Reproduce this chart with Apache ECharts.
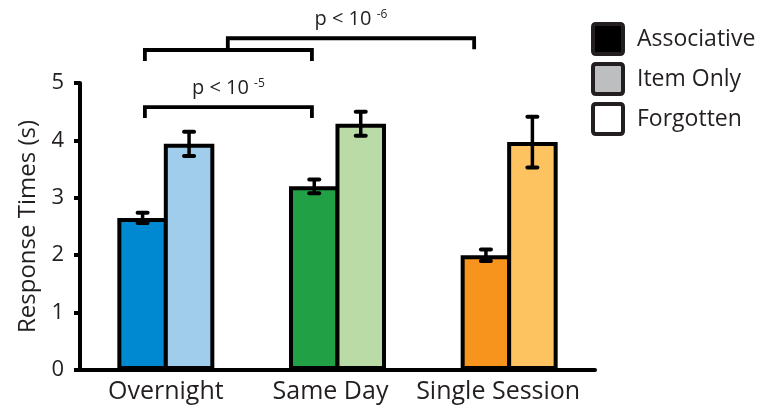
<!DOCTYPE html>
<html>
<head>
<meta charset="utf-8">
<script src="https://cdn.jsdelivr.net/npm/echarts@6/dist/echarts.min.js"></script>
<style>html,body{margin:0;padding:0;background:#fff}#c{width:778px;height:419px}</style>
</head>
<body>
<div id="c"></div>
<script>
var categories = ['Overnight', 'Same Day', 'Single Session'];
var associative = [2.65, 3.20, 2.00];
var associativeErr = [0.09, 0.12, 0.10];
var itemOnly = [3.94, 4.29, 3.97];
var itemOnlyErr = [0.21, 0.21, 0.44];
var assocColors = ['#0089d0', '#21a046', '#f7941e'];
var itemColors = ['#a0cdeb', '#badaa6', '#fec361'];
var yTicks = [0, 1, 2, 3, 4, 5];
var legendNames = ['Associative', 'Item Only', 'Forgotten'];
var legendFills = ['#000000', '#bcbec0', '#ffffff'];
// significance brackets: x in category units, y in data units
var brackets = [
  {x1: -0.122, x2: 0.851, y: 4.58, label: 'p < 10', exp: '-5'},
  {x1: -0.122, x2: 0.851, y: 5.575, label: '', exp: ''},
  {x1: 0.361, x2: 1.796, y: 5.78, label: 'p < 10', exp: '-6', leftToY: 5.575}
];

var TXT = '#231f20';
var GAP = 0.435;
var BARGAP = -0.08;
var labelShift = {'Overnight': 0, 'Same Day': 14, 'Single Session': 22};
var chart = echarts.init(document.getElementById('c'), null, {renderer: 'canvas'});

function barOffset(band, side) {
  var total = band * (1 - GAP);
  var w = total / (2 + BARGAP);
  var off = total / 2 - w / 2;
  return side === 0 ? -off : off;
}

var errData = [];
for (var i = 0; i < categories.length; i++) {
  errData.push([i, associative[i], associativeErr[i], 0]);
  errData.push([i, itemOnly[i], itemOnlyErr[i], 1]);
}

var rich = {};
categories.forEach(function (c, k) {
  rich['c' + k] = {fontSize: 25, color: TXT, fontFamily: 'Open Sans', padding: [0, labelShift[c], 0, 0]};
});

var option = {
  animation: false,
  backgroundColor: '#fff',
  textStyle: {fontFamily: 'Open Sans', color: TXT},
  grid: {left: 80, right: 183, top: 83, bottom: 49, containLabel: false},
  legend: {
    orient: 'vertical', align: 'left',
    left: 591, top: 22, padding: 0,
    itemWidth: 30, itemHeight: 30, itemGap: 6,
    itemTextGap: 10,
    selectedMode: false,
    textStyle: {fontSize: 23, color: TXT, fontFamily: 'Open Sans', padding: [0, 0, 0, 9]},
    data: legendNames.map(function (n, k) {
      return {name: n, icon: 'path://M3,0H27Q30,0 30,3V27Q30,30 27,30H3Q0,30 0,27V3Q0,0 3,0Z',
        itemStyle: {color: legendFills[k], borderColor: TXT, borderWidth: 4}};
    })
  },
  xAxis: {
    type: 'category',
    data: categories,
    axisLine: {lineStyle: {color: '#000', width: 4}},
    axisTick: {show: false},
    axisLabel: {interval: 0, fontSize: 25, color: TXT, margin: 9, fontFamily: 'Open Sans',
      formatter: function (v) { return '{c' + categories.indexOf(v) + '|' + v + '}'; },
      rich: rich}
  },
  yAxis: {
    type: 'value',
    min: 0, max: 5, interval: 1,
    name: 'Response Times (s)',
    nameLocation: 'middle',
    nameGap: 40,
    nameTextStyle: {fontSize: 24, color: TXT, fontFamily: 'Open Sans'},
    axisLine: {show: true, lineStyle: {color: '#000', width: 4}},
    axisTick: {show: true, length: 6, lineStyle: {color: '#000', width: 4}},
    splitLine: {show: false},
    axisLabel: {fontSize: 22, color: TXT, margin: 16, fontFamily: 'Open Sans',
      formatter: function (v) { return yTicks.indexOf(v) >= 0 ? String(v) : ''; }}
  },
  series: [
    {
      name: 'Associative', type: 'bar', barGap: (BARGAP * 100) + '%', barCategoryGap: (GAP * 100) + '%',
      data: associative.map(function (v, k) { return {value: v, itemStyle: {color: assocColors[k]}}; }),
      itemStyle: {borderColor: '#000', borderWidth: 4}
    },
    {
      name: 'Item Only', type: 'bar', barGap: (BARGAP * 100) + '%', barCategoryGap: (GAP * 100) + '%',
      data: itemOnly.map(function (v, k) { return {value: v, itemStyle: {color: itemColors[k]}}; }),
      itemStyle: {borderColor: '#000', borderWidth: 4}
    },
    {name: 'Forgotten', type: 'line', data: []},
    {
      name: 'errors', type: 'custom', z: 10,
      data: errData,
      renderItem: function (params, api) {
        var cat = api.value(0), v = api.value(1), e = api.value(2), side = api.value(3);
        var band = api.size([1, 0])[0];
        var x = api.coord([cat, v])[0] + barOffset(band, side);
        var yT = api.coord([cat, v + e])[1];
        var yB = api.coord([cat, v - e])[1];
        var st = {stroke: '#000', lineWidth: 4, lineCap: 'round'};
        var c = 5;
        return {type: 'group', children: [
          {type: 'line', shape: {x1: x, y1: yT, x2: x, y2: yB}, style: {stroke: '#000', lineWidth: 3.5}},
          {type: 'line', shape: {x1: x - c, y1: yT, x2: x + c, y2: yT}, style: st},
          {type: 'line', shape: {x1: x - c, y1: yB, x2: x + c, y2: yB}, style: st}
        ]};
      }
    },
    {
      name: 'brackets', type: 'custom', z: 10, clip: false,
      data: brackets.map(function (b, k) { return [k, b.y]; }),
      renderItem: function (params, api) {
        var b = brackets[params.dataIndex];
        var band = api.size([1, 0])[0];
        var x0 = api.coord([0, b.y])[0];
        var y = api.coord([0, b.y])[1];
        var xa = x0 + b.x1 * band, xb = x0 + b.x2 * band;
        var drop = 11;
        var yl = b.leftToY != null ? api.coord([0, b.leftToY])[1] : y + drop;
        var st = {stroke: '#000', lineWidth: 3.8, fill: null, lineJoin: 'miter'};
        var children = [
          {type: 'polyline', shape: {points: [[xa, yl], [xa, y], [xb, y], [xb, y + drop]]}, style: st}
        ];
        if (b.label) {
          children.push({type: 'text', x: (xa + xb) / 2, y: y - 19,
            style: {text: b.label + ' {s|' + b.exp + '}', fill: TXT, fontSize: 20, fontFamily: 'Open Sans',
              align: 'center', verticalAlign: 'middle',
              rich: {s: {fontSize: 12, fill: TXT, fontFamily: 'Open Sans', padding: [0, 0, 10, 0]}}}});
        }
        return {type: 'group', children: children};
      }
    }
  ]
};
chart.setOption(option);
</script>
</body>
</html>
